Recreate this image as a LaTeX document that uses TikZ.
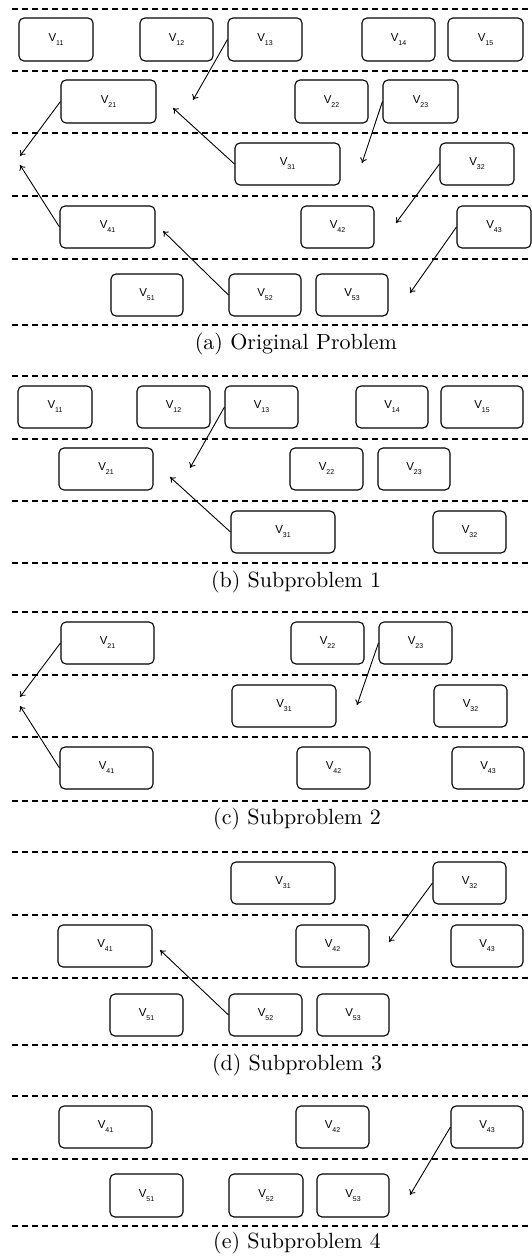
\documentclass[tikz,border=0pt]{standalone}
\usepackage{fontspec}
\newfontfamily\nodefont{Liberation Sans}
\usetikzlibrary{arrows.meta}
\tikzset{
  vbox/.style={draw, rounded corners=5pt, line width=1.1pt, inner sep=0pt, font=\nodefont},
  sepline/.style={dash pattern=on 6pt off 4pt, line width=1.1pt},
  arr/.style={-{To[length=5pt,width=7pt]}, line width=0.9pt},
  captext/.style={inner sep=0pt, font=\fontsize{10}{12}\selectfont},
}
\newcommand\lab[1]{{\fontsize{11.5}{13}\selectfont V}\raisebox{-4pt}{\fontsize{7}{8}\selectfont #1}}
\newcommand\bx[6]{\node[vbox, minimum width={(#3-#2)*1pt}, minimum height={(#5-#4)*1pt}] (#1) at ({(#2+#3)/2},{(#4+#5)/2}) {\lab{#6}};}
\newcommand\sepl[1]{\draw[sepline] (12,#1) -- (532,#1);}
\newcommand\capt[1]{\scalebox{2.2}{#1}}
\begin{document}
\begin{tikzpicture}[x=1pt,y=-1pt]
\useasboundingbox (0,0) rectangle (532,1257);
% ---------------- (a)
\foreach \yy in {9,71,133,196,259,325} {\sepl{\yy}}
\bx{a11}{19}{93}{18}{61}{11}
\bx{a12}{140}{213}{18}{61}{12}
\bx{a13}{228}{302}{18}{61}{13}
\bx{a14}{362}{435}{18}{61}{14}
\bx{a15}{448}{523}{18}{61}{15}
\bx{a21}{61}{156}{80}{123}{21}
\bx{a22}{295}{368}{80}{123}{22}
\bx{a23}{383}{458}{80}{123}{23}
\bx{a31}{235}{340}{143}{185}{31}
\bx{a32}{440}{514}{143}{185}{32}
\bx{a41}{60}{155}{206}{248}{41}
\bx{a42}{301}{374}{206}{248}{42}
\bx{a43}{457}{531}{206}{248}{43}
\bx{a51}{111}{183}{274}{316}{51}
\bx{a52}{229}{301}{274}{316}{52}
\bx{a53}{316}{388}{274}{316}{53}
\coordinate (pa1) at (193,100);
\coordinate (pa2) at (20,156);
\coordinate (pa3) at (173,108);
\coordinate (pa4) at (362,163);
\coordinate (pa5) at (396,223);
\coordinate (pa6) at (20,165);
\coordinate (pa7) at (163,231);
\coordinate (pa8) at (410,293);
\draw[arr] (a13.west) -- (pa1);
\draw[arr] (a21.west) -- (pa2);
\draw[arr] (a31.west) -- (pa3);
\draw[arr] (a23.west) -- (pa4);
\draw[arr] (a32.west) -- (pa5);
\draw[arr] (a41.west) -- (pa6);
\draw[arr] (a52.west) -- (pa7);
\draw[arr] (a43.west) -- (pa8);
\node[captext] (capa) at (296,344) {\capt{(a) Original Problem}};
% ---------------- (b)
\foreach \yy in {376,439,501,563} {\sepl{\yy}}
\bx{b11}{18}{92}{386}{428}{11}
\bx{b12}{137}{210}{386}{428}{12}
\bx{b13}{225}{298}{386}{428}{13}
\bx{b14}{356}{428}{386}{428}{14}
\bx{b15}{441}{523}{386}{428}{15}
\bx{b21}{59}{153}{448}{490}{21}
\bx{b22}{290}{363}{448}{490}{22}
\bx{b23}{378}{450}{448}{490}{23}
\bx{b31}{231}{335}{511}{553}{31}
\bx{b32}{433}{506}{511}{553}{32}
\coordinate (pb1) at (190,468);
\coordinate (pb2) at (170,477);
\draw[arr] (b13.west) -- (pb1);
\draw[arr] (b31.west) -- (pb2);
\node[captext] (capb) at (296,582) {\capt{(b) Subproblem 1}};
% ---------------- (c)
\foreach \yy in {612,675,737,801} {\sepl{\yy}}
\bx{c21}{61}{154}{622}{664}{21}
\bx{c22}{291}{364}{622}{664}{22}
\bx{c23}{379}{452}{622}{664}{23}
\bx{c31}{232}{336}{685}{727}{31}
\bx{c32}{434}{507}{685}{727}{32}
\bx{c41}{60}{153}{747}{789}{41}
\bx{c42}{297}{370}{747}{789}{42}
\bx{c43}{452}{524}{747}{789}{43}
\coordinate (pc1) at (20,697);
\coordinate (pc2) at (20,706);
\coordinate (pc3) at (357,705);
\draw[arr] (c21.west) -- (pc1);
\draw[arr] (c41.west) -- (pc2);
\draw[arr] (c23.west) -- (pc3);
\node[captext] (capc) at (297,819) {\capt{(c) Subproblem 2}};
% ---------------- (d)
\foreach \yy in {852,915,978,1045} {\sepl{\yy}}
\bx{d31}{231}{335}{862}{904}{31}
\bx{d32}{433}{506}{862}{904}{32}
\bx{d41}{58}{152}{925}{967}{41}
\bx{d42}{296}{369}{925}{967}{42}
\bx{d43}{451}{523}{925}{967}{43}
\bx{d51}{110}{183}{994}{1036}{51}
\bx{d52}{229}{302}{994}{1036}{52}
\bx{d53}{317}{389}{994}{1036}{53}
\coordinate (pd1) at (389,942);
\coordinate (pd2) at (160,950);
\draw[arr] (d32.west) -- (pd1);
\draw[arr] (d52.west) -- (pd2);
\node[captext] (capd) at (297,1065) {\capt{(d) Subproblem 3}};
% ---------------- (e)
\foreach \yy in {1096,1159,1226} {\sepl{\yy}}
\bx{e41}{59}{152}{1106}{1148}{41}
\bx{e42}{296}{369}{1106}{1148}{42}
\bx{e43}{451}{523}{1106}{1148}{43}
\bx{e51}{110}{183}{1174}{1217}{51}
\bx{e52}{229}{303}{1174}{1217}{52}
\bx{e53}{317}{389}{1174}{1217}{53}
\coordinate (pe1) at (410,1195);
\draw[arr] (e43.west) -- (pe1);
\node[captext] (cape) at (297,1243) {\capt{(e) Subproblem 4}};
\end{tikzpicture}
\end{document}
